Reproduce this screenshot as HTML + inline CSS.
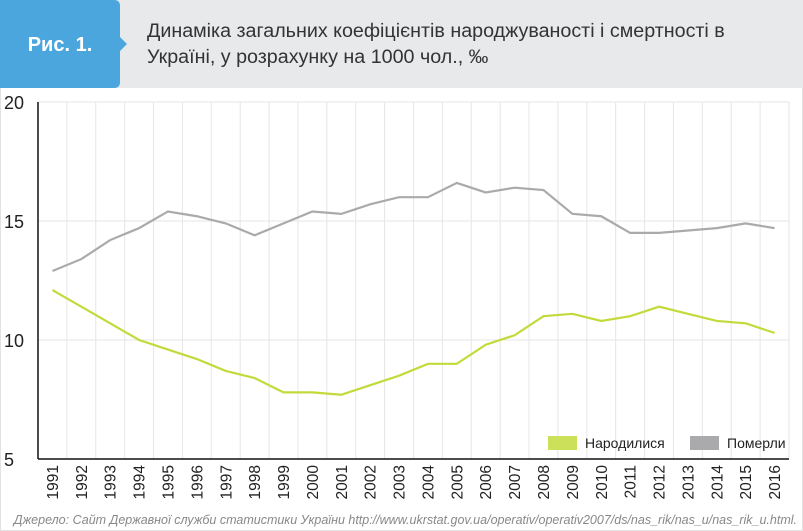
<!DOCTYPE html>
<html><head><meta charset="utf-8"><style>
body{margin:0;width:803px;height:531px;overflow:hidden;background:#fff;font-family:"Liberation Sans",sans-serif;}
#wrap{position:absolute;left:0;top:0;width:801px;height:529px;border:1px solid #e2e2e2;}
</style></head><body>
<div id="wrap"></div>
<svg width="803" height="531" style="position:absolute;left:0;top:0">
<rect x="0" y="0" width="803" height="88" fill="#e8e9eb"/>
<path d="M0,0 H114 Q120,0 120,6 V37 L127,44 L120,51 V82 Q120,88 114,88 H0 Z" fill="#4aa6dc"/>
<text x="60" y="51" text-anchor="middle" fill="#fff" font-size="20" font-weight="bold">Рис. 1.</text>
<text x="147" y="37" fill="#333" font-size="19.7">Динаміка загальних коефіцієнтів народжуваності і смертності в</text>
<text x="147" y="63" fill="#333" font-size="19.7">Україні, у розрахунку на 1000 чол., ‰</text>
<g id="grid"></g>
<g id="series"></g>
<g id="axes"></g>
<rect x="548" y="436" width="29" height="14" fill="#cde05a"/>
<text x="585" y="448" font-size="14" fill="#222">Народилися</text>
<rect x="690" y="436" width="29" height="14" fill="#aaaaad"/>
<text x="727" y="448" font-size="14" fill="#222">Померли</text>
<text x="797" y="524" text-anchor="end" font-size="12.5" font-style="italic" fill="#888">Джерело: Сайт Державної служби статистики України http://www.ukrstat.gov.ua/operativ/operativ2007/ds/nas_rik/nas_u/nas_rik_u.html.</text>
</svg>
<script>
const years=[1991,1992,1993,1994,1995,1996,1997,1998,1999,2000,2001,2002,2003,2004,2005,2006,2007,2008,2009,2010,2011,2012,2013,2014,2015,2016];
const deaths=[12.9,13.4,14.2,14.7,15.4,15.2,14.9,14.4,14.9,15.4,15.3,15.7,16.0,16.0,16.6,16.2,16.4,16.3,15.3,15.2,14.5,14.5,14.6,14.7,14.9,14.7];
const births=[12.1,11.4,10.7,10.0,9.6,9.2,8.7,8.4,7.8,7.8,7.7,8.1,8.5,9.0,9.0,9.8,10.2,11.0,11.1,10.8,11.0,11.4,11.1,10.8,10.7,10.3];
const yTicks=[5,10,15,20];
const NS='http://www.w3.org/2000/svg';
const x0=38,x1=789,yTop=102,yBot=459,vMin=5,vMax=20;
const band=(x1-x0)/years.length;
const X=i=>x0+band*(i+0.5);
const Y=v=>yBot-(v-vMin)/(vMax-vMin)*(yBot-yTop);
function mk(tag,attrs,parent){const e=document.createElementNS(NS,tag);for(const k in attrs)e.setAttribute(k,attrs[k]);document.getElementById(parent).appendChild(e);return e;}
for(let i=1;i<=years.length;i++){
 const g=mk('line',{x1:x0+band*i,x2:x0+band*i,y1:yTop,y2:yBot,stroke:'#e6e6e6','stroke-width':1},'grid');
 
 
}
yTicks.forEach(t=>{
 if(t>vMin){const g=mk('line',{x1:x0,x2:x1,y1:Y(t),y2:Y(t),stroke:'#e6e6e6','stroke-width':1},'grid');
 
 }
 const l=mk('text',{x:4,y:Y(t)+7,'font-size':18,fill:'#222'},'axes');l.textContent=t;
 
 
});
const ya=mk('line',{x1:x0,x2:x0,y1:yTop,y2:yBot,stroke:'#111','stroke-width':1.5},'axes');


const xa=mk('line',{x1:x0,x2:x1,y1:yBot,y2:yBot,stroke:'#111','stroke-width':1.5},'axes');


years.forEach((yr,i)=>{
 const t=mk('text',{x:0,y:0,'font-size':15.5,fill:'#222','text-anchor':'end',transform:`translate(${X(i)+5.5},${yBot+6}) rotate(-90)`},'axes');
 t.textContent=yr;
 
 
});
function line(vals,color,name){
 const p=mk('polyline',{points:vals.map((v,i)=>X(i)+','+Y(v)).join(' '),fill:'none',stroke:color,'stroke-width':2.2},'series');
 
 
}
line(deaths,'#aaaaad','deaths-line');
line(births,'#c3da3a','births-line');
</script>
</body></html>
